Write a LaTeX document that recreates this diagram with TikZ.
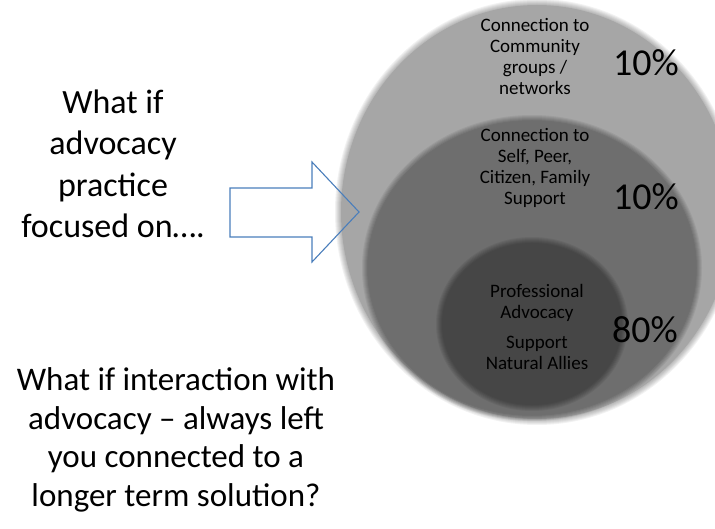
\documentclass[tikz,border=0pt]{standalone}
\usepackage{fontspec}
\setmainfont{Carlito}
\definecolor{ringouter}{RGB}{166,166,166}
\definecolor{ringmid}{RGB}{110,110,110}
\definecolor{ringinner}{RGB}{70,70,70}
\definecolor{arrowblue}{RGB}{74,126,187}
\begin{document}
\begin{tikzpicture}[x=1pt,y=-1pt,
		circtext/.style={align=center,font=\fontsize{19}{21}\selectfont},
		pcttext/.style={font=\fontsize{38}{40}\selectfont},
		asktext/.style={align=center,font=\fontsize{34}{41.5}\selectfont}]
	\useasboundingbox (0,0) rectangle (715,529);
	\clip (0,0) rectangle (715,529);
	% aeusserer Kreis
	\foreach \k in {1,...,6}
		\fill[black,opacity=0.05] (537,212) ellipse ({(196+\k)*1pt} and {(207+\k)*1pt});
	\fill[ringouter] (537,212) ellipse (196pt and 207pt);
	% mittlerer Kreis
	\foreach \k in {1,...,6}
		\fill[black,opacity=0.06] (532,268) ellipse ({(164+\k)*1pt} and {(147+\k)*1pt});
	\fill[ringmid] (532,268) ellipse (164pt and 147pt);
	% innerer Kreis
	\foreach \k in {1,...,6}
		\fill[black,opacity=0.06] (532,324) ellipse ({(90+\k)*1pt} and {(81+\k)*1pt});
	\fill[ringinner] (532,324) ellipse (90pt and 81pt);
	% Pfeil
	\draw[arrowblue,line width=1.1pt,line join=miter] (230,188) to (312,188) to (312,162) to (359,212) to (312,262) to (312,237) to (230,237) to cycle;
	% Texte
	\node[circtext] (community) at (535,56.5) {Connection to\\Community\\groups / \\networks};
	\node[circtext] (self) at (535,168) {Connection to\\Self, Peer,\\Citizen, Family\\Support};
	\node[circtext] (professional) at (537,327) {Professional\\Advocacy\\[9pt]Support\\Natural Allies};
	\node[pcttext] (pctouter) at (646,63) {10\%};
	\node[pcttext] (pctmid) at (646,197) {10\%};
	\node[pcttext] (pctinner) at (645,330) {80\%};
	\node[asktext] (focus) at (113,164) {What if\\advocacy\\practice\\focused on….};
	\node[asktext,font=\fontsize{33}{38.5}\selectfont] (interaction) at (176,440) {What if interaction with\\advocacy – always left\\you connected to a\\longer term solution?};
\end{tikzpicture}
\end{document}
